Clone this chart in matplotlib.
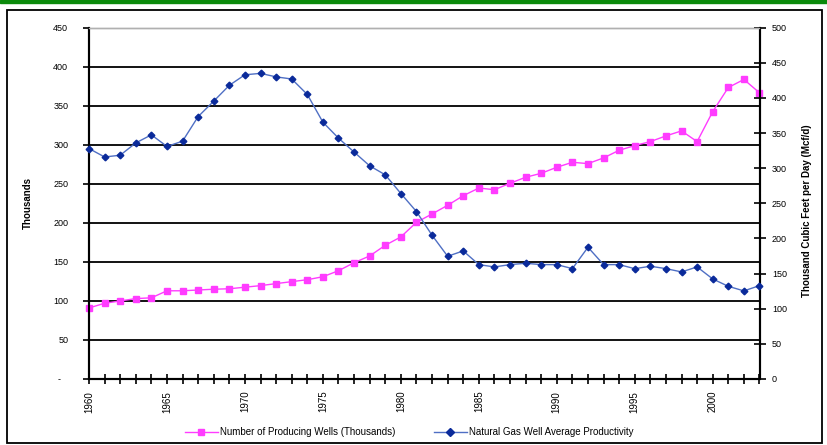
import numpy as np
import matplotlib
matplotlib.use('Agg')
import matplotlib.pyplot as plt
from matplotlib.lines import Line2D
from matplotlib.patches import Rectangle

# data
years = list(range(1960, 2004))
wells = [91, 97, 100, 103, 104, 113, 113, 114, 115, 115.6, 117.6, 119.6, 122.2, 124.7, 127.2,
         131, 138.7, 149, 157.6, 171.3, 182, 200.7, 211.4, 222.5, 234.8, 244.6, 242.5, 250.7, 258.4, 263.5,
         271.2, 277.6, 275.9, 283.2, 293, 299, 304.1, 311.4, 317.8, 304.1, 342.5, 373.4, 383.7, 366.6]
productivity = [328, 316, 318.5, 336, 347.5, 331, 338.5, 373.5, 395.5, 418, 433, 435, 430, 427, 405,
                365.5, 342.8, 323, 303.4, 290.6, 264, 238.3, 204.6, 174.7, 182.3, 162.8, 159.5, 162.8, 164.7, 162.8,
                162.8, 157.1, 187.5, 162.8, 162.8, 157, 160.5, 157.1, 152.4, 159.5, 142.4, 131.9, 125.4, 132.9]
left_ticks = [0, 50, 100, 150, 200, 250, 300, 350, 400, 450]
right_ticks = [0, 50, 100, 150, 200, 250, 300, 350, 400, 450, 500]
label_years = [1960, 1965, 1970, 1975, 1980, 1985, 1990, 1995, 2000]

plt.rcParams['font.family'] = ['Liberation Sans', 'DejaVu Sans']

W, H = 828, 445
fig = plt.figure(figsize=(W / 100, H / 100), dpi=100)

# green band and outer frame
fig.patches.append(Rectangle((0, 1 - 3 / H), 1, 3 / H, transform=fig.transFigure,
                             color='#0b8a0b', zorder=0))
fig.patches.append(Rectangle((7 / W, 1 - 443 / H), 815 / W, 433 / H, transform=fig.transFigure,
                             fill=False, edgecolor='black', lw=1.3, zorder=0))

ax = fig.add_axes([89 / W, 1 - 379 / H, 670.5 / W, 351.3 / H])
ax2 = ax.twinx()

pink = '#ff3cff'
blue_line = '#4f6fc4'
blue_mark = '#0a2a9a'

for v in left_ticks[1:-1]:
    ax.axhline(v, color='black', lw=1.3, zorder=1)

ax.plot(years, wells, color=pink, lw=1, marker='s', markersize=4.2,
        markeredgecolor=pink, markerfacecolor=pink, clip_on=False, zorder=3)
ax2.plot(years, productivity, color=blue_line, lw=1, marker='D', markersize=3.4,
         markerfacecolor=blue_mark, markeredgecolor=blue_mark, clip_on=False, zorder=3)

ax.set_xlim(1960, 2003)
ax.set_ylim(0, 450)
ax2.set_ylim(0, 500)

ax.set_yticks(left_ticks)
ax.set_yticklabels(['-   '] + [str(v) for v in left_ticks[1:]])
ax2.set_yticks(right_ticks)
ax2.set_yticklabels([str(v) for v in right_ticks])

ax.set_xticks(years)
ax.set_xticklabels([str(y) if y in label_years else '' for y in years], rotation=90)

ax.tick_params(axis='y', direction='out', length=4, width=1.2, labelsize=6.5, pad=11)
ax.tick_params(axis='x', direction='inout', length=7, width=1.2, labelsize=7, pad=5)
ax2.tick_params(axis='y', direction='inout', length=8, width=1.2, labelsize=6.5, pad=5)

# magenta ticks on the secondary axis like the original
for t in ax2.yaxis.get_major_ticks():
    if t.get_loc() in (0, 100, 150, 350, 400, 450):
        t.tick2line.set_color(pink)

for s in ['left', 'bottom', 'right']:
    ax.spines[s].set_linewidth(1.5)
    ax2.spines[s].set_linewidth(1.5)
ax.spines['top'].set_color('#b0b0b0')
ax2.spines['top'].set_color('#b0b0b0')
ax.spines['top'].set_linewidth(1)
ax2.spines['top'].set_linewidth(1)

ax.set_ylabel('Thousands', fontsize=7, fontweight='bold')
ax.yaxis.set_label_coords(-0.084, 0.5)
ax2.set_ylabel('Thousand Cubic Feet per Day (Mcf/d)', fontsize=7, fontweight='bold')
ax2.yaxis.set_label_coords(1.064, 0.48)

handles = [Line2D([], [], color=pink, lw=1, marker='s', markersize=4.5),
           Line2D([], [], color=blue_line, lw=1, marker='D', markersize=3.6,
                  markerfacecolor=blue_mark, markeredgecolor=blue_mark)]
fig.legend(handles, ['Number of Producing Wells (Thousands)', 'Natural Gas Well Average Productivity'],
           loc='center', bbox_to_anchor=(409 / W, 1 - 432 / H), ncol=2, frameon=False,
           fontsize=7, handlelength=3.4, handletextpad=0.2, columnspacing=4.0)

fig.savefig('out.png', dpi=100)
